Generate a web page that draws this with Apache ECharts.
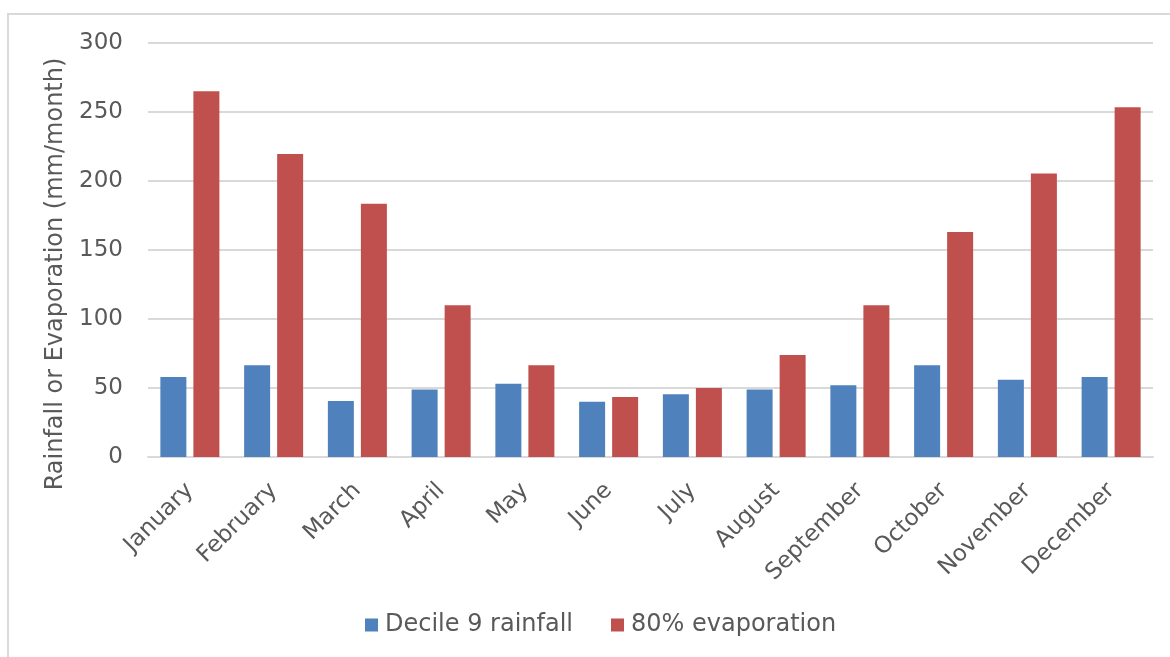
<!DOCTYPE html>
<html>
<head>
<meta charset="utf-8">
<script src="https://cdn.jsdelivr.net/npm/echarts@6/dist/echarts.min.js"></script>
<style>
html,body{margin:0;padding:0;background:#fff;overflow:hidden;}
#frame{position:absolute;left:7px;top:13px;width:1200px;height:700px;border:2px solid #d9d9d9;box-sizing:border-box;}
#chart{position:absolute;left:0;top:0;width:1170px;height:657px;}
</style>
</head>
<body>
<div id="frame"></div>
<div id="chart"></div>
<script>
const months = ['January','February','March','April','May','June','July','August','September','October','November','December'];
const rainfall = [58, 66.5, 40.5, 49, 53, 40, 45.5, 49, 52, 66.5, 56, 58];
const evaporation = [265, 219.5, 183.5, 110, 66.5, 43.5, 50, 74, 110, 163, 205.5, 253.5];
const seriesNames = ['Decile 9 rainfall', '80% evaporation'];
const yTicks = {min: 0, max: 300, interval: 50};

const font = 'DejaVu Sans';
const chart = echarts.init(document.getElementById('chart'), null, {renderer: 'canvas'});
chart.setOption({
  animation: false,
  backgroundColor: 'transparent',
  textStyle: {fontFamily: font},
  grid: {left: 148, right: 17, top: 43, bottom: 200, containLabel: false},
  legend: {
    bottom: 15, left: 360,
    itemWidth: 13, itemHeight: 13, itemGap: 38,
    icon: 'rect',
    textStyle: {fontFamily: font, fontSize: 24, color: '#595959', padding: [0,0,0,2]},
    data: seriesNames
  },
  xAxis: {
    type: 'category',
    data: months,
    axisLine: {lineStyle: {color: '#d9d9d9', width: 2}},
    axisTick: {show: false},
    axisLabel: {rotate: 45, fontFamily: font, fontSize: 23, color: '#595959', margin: 30, interval: 0}
  },
  yAxis: {
    type: 'value',
    min: yTicks.min, max: yTicks.max, interval: yTicks.interval,
    name: 'Rainfall or Evaporation (mm/month)',
    nameLocation: 'middle', nameGap: 76,
    nameTextStyle: {fontFamily: font, fontSize: 24, color: '#595959', padding: [0, 48, 0, 0]},
    axisLine: {show: false},
    axisTick: {show: false},
    axisLabel: {fontFamily: font, fontSize: 23, color: '#595959', margin: 25},
    splitLine: {lineStyle: {color: '#d9d9d9', width: 2}}
  },
  series: [
    {name: seriesNames[0], type: 'bar', data: rainfall, barWidth: 26, barGap: '27%',
     itemStyle: {color: '#4f81bd'}},
    {name: seriesNames[1], type: 'bar', data: evaporation, barWidth: 26,
     itemStyle: {color: '#c0504d'}}
  ]
});
</script>
</body>
</html>
